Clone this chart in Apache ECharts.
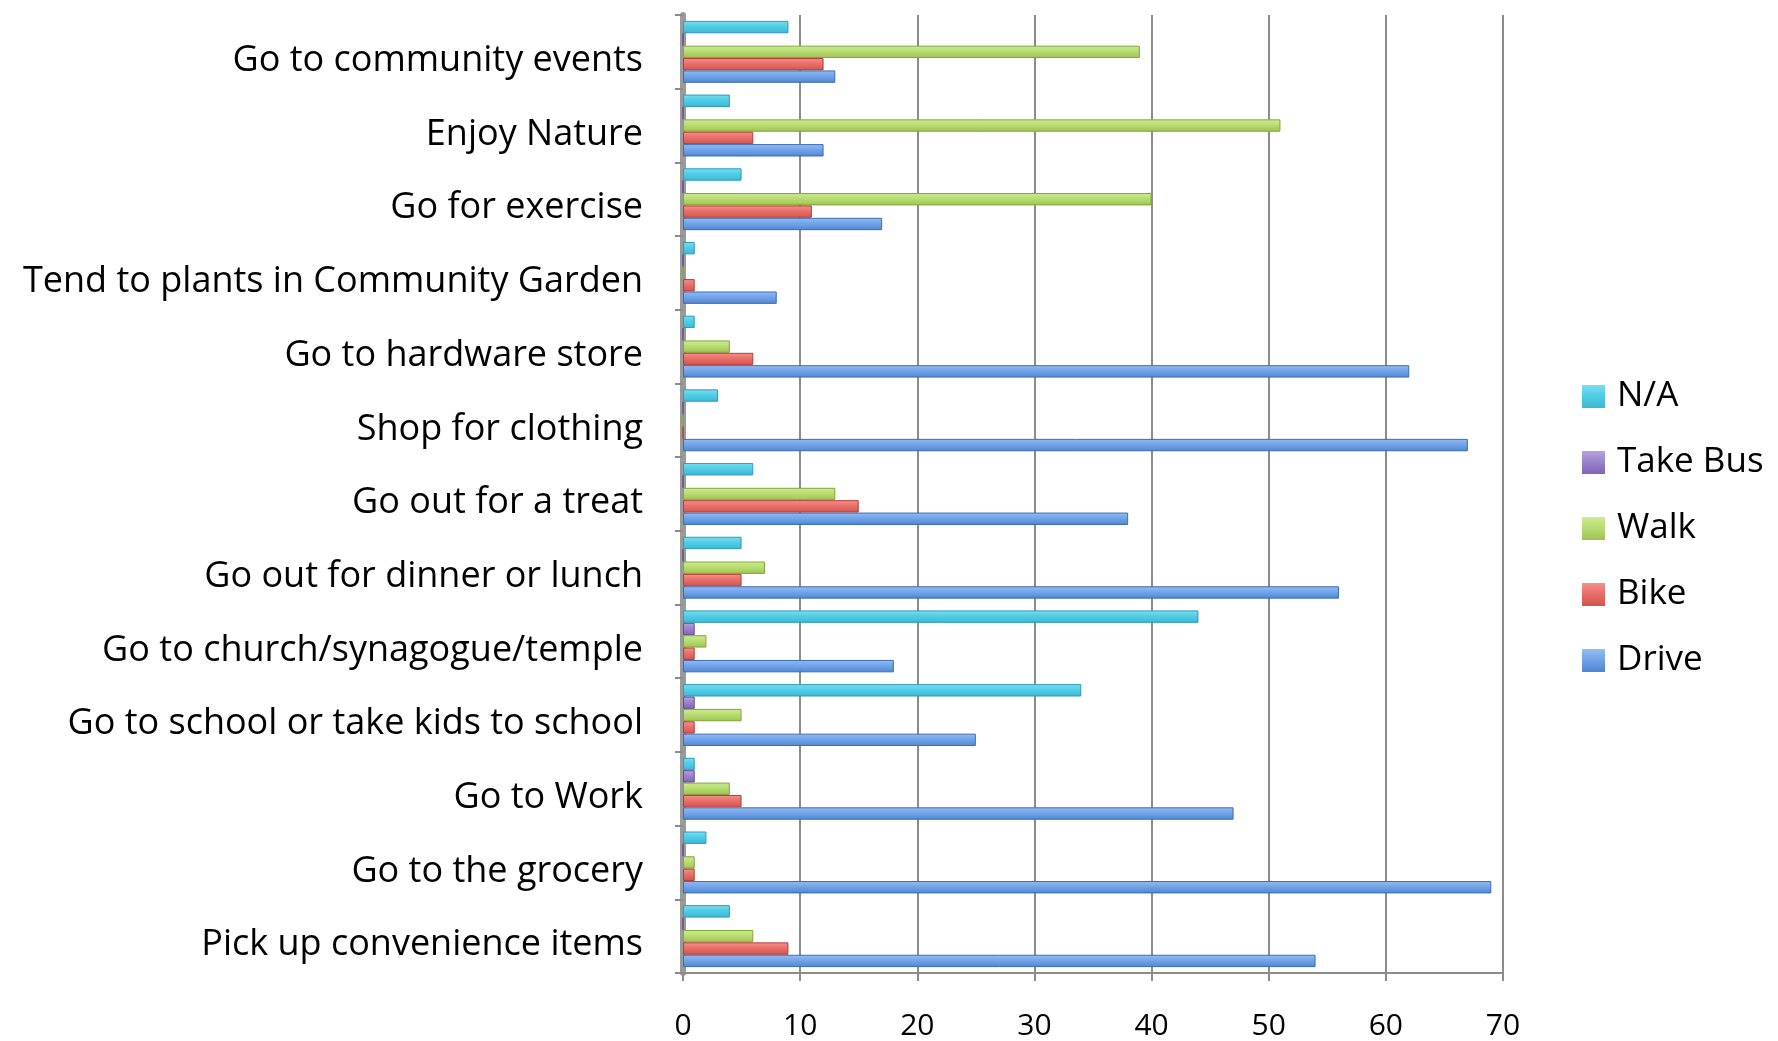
<!DOCTYPE html>
<html>
<head>
<meta charset="utf-8">
<script src="https://cdn.jsdelivr.net/npm/echarts@6/dist/echarts.min.js"></script>
<style>html,body{margin:0;padding:0;background:#fff}#c{width:1778px;height:1041px}</style>
</head>
<body>
<div id="c"></div>
<script>
// Categories, top to bottom as shown
var categories = [
  "Go to community events",
  "Enjoy Nature",
  "Go for exercise",
  "Tend to plants in Community Garden",
  "Go to hardware store",
  "Shop for clothing",
  "Go out for a treat",
  "Go out for dinner or lunch",
  "Go to church/synagogue/temple",
  "Go to school or take kids to school",
  "Go to Work",
  "Go to the grocery",
  "Pick up convenience items"
];
var xTicks = [0, 10, 20, 30, 40, 50, 60, 70];
var seriesNames = ["N/A", "Take Bus", "Walk", "Bike", "Drive"];
var naValues    = [9, 4, 5, 1, 1, 3, 6, 5, 44, 34, 1, 2, 4];
var busValues   = [0, 0, 0, 0, 0, 0, 0, 0, 1, 1, 1, 0, 0];
var walkValues  = [39, 51, 40, 0, 4, 0, 13, 7, 2, 5, 4, 1, 6];
var bikeValues  = [12, 6, 11, 1, 6, 0, 15, 5, 1, 1, 5, 1, 9];
var driveValues = [13, 12, 17, 8, 62, 67, 38, 56, 18, 25, 47, 69, 54];

var palette = {
  "N/A":      ["#7adff2", "#55cfe8", "#3ab8d3", "#2f9bb5"],
  "Take Bus": ["#b9a2df", "#9f86cf", "#8063b5", "#664b98"],
  "Walk":     ["#cdec8c", "#bbdf77", "#9ec250", "#84a63a"],
  "Bike":     ["#f4928c", "#ea736d", "#d6524c", "#b63d38"],
  "Drive":    ["#94bdf3", "#76a7ea", "#4e86d4", "#3c6db3"]
};
var valueSets = [naValues, busValues, walkValues, bikeValues, driveValues];

function grad(c) {
  return new echarts.graphic.LinearGradient(0, 0, 0, 1, [
    {offset: 0, color: c[0]}, {offset: 0.4, color: c[1]}, {offset: 1, color: c[2]}
  ]);
}

var font = "'Open Sans', 'Liberation Sans', sans-serif";
var series = seriesNames.map(function (n, i) {
  return {
    name: n,
    type: 'bar',
    data: valueSets[i],
    barGap: '0%',
    barCategoryGap: '16%',
    itemStyle: {color: grad(palette[n]), borderColor: palette[n][3], borderWidth: 1},
    emphasis: {disabled: true}
  };
});

var chart = echarts.init(document.getElementById('c'));
chart.setOption({
  animation: false,
  textStyle: {fontFamily: font},
  grid: {left: 683, right: 275, top: 15, bottom: 68},
  legend: {
    orient: 'vertical',
    left: 1577, top: 374,
    data: seriesNames,
    icon: 'rect',
    itemWidth: 23, itemHeight: 23,
    itemGap: 31,
    itemStyle: {borderWidth: 0},
    textStyle: {fontSize: 35, color: '#000', fontFamily: font, padding: [0, 0, 0, 7]}
  },
  xAxis: {
    type: 'value',
    min: xTicks[0], max: xTicks[xTicks.length - 1], interval: 10,
    axisLine: {show: true, lineStyle: {color: '#8c8c8c', width: 2}},
    axisTick: {show: true, length: 8, lineStyle: {color: '#8c8c8c', width: 2}},
    splitLine: {show: true, lineStyle: {color: '#8c8c8c', width: 2}},
    axisLabel: {fontSize: 30, color: '#000', margin: 38, fontFamily: font}
  },
  yAxis: {
    type: 'category',
    inverse: true,
    data: categories,
    axisLine: {show: true, lineStyle: {color: '#9a9a9a', width: 6}},
    axisTick: {show: true, length: 8, lineStyle: {color: '#8c8c8c', width: 2}},
    axisLabel: {fontSize: 36, color: '#000', margin: 40, fontFamily: font,
                verticalAlign: 'top', lineHeight: 18}
  },
  series: series
});
</script>
</body>
</html>
